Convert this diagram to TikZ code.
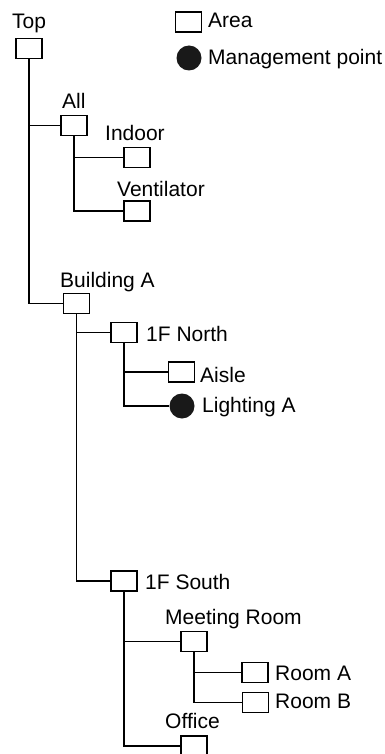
\documentclass[tikz,border=0pt]{standalone}
\usepackage{fontspec}
\setmainfont{Liberation Sans}
\begin{document}
\begin{tikzpicture}[x=1pt,y=-1pt,
  area/.style={draw,line width=1.5pt,rectangle,minimum width=26pt,minimum height=20pt,inner sep=0pt,fill=white},
  mpoint/.style={circle,fill=black!90,minimum size=25pt,inner sep=0pt},
  lbl/.style={anchor=base west,inner sep=0pt,font=\fontsize{21}{24}\selectfont},
  conn/.style={line width=1.5pt}]
\useasboundingbox (0,0) rectangle (385,754);
% connectors
\coordinate (c0) at (0,0);
% legend
\node[area] (legarea) at (188.5,22) {};
\node[lbl] (legareat) at (208,28) {Area};
\node[mpoint] (legmp) at (189,58) {};
\node[lbl] (legmpt) at (208,65) {Management point};
% nodes
\node[area] (top) at (29,48.5) {};
\node[lbl] (topt) at (12,29) {Top};
\node[area] (all) at (74,125.5) {};
\node[lbl] (allt) at (62,109) {All};
\node[area] (indoor) at (137,157.5) {};
\node[lbl] (indoort) at (105,141) {Indoor};
\node[area] (vent) at (137,211) {};
\node[lbl] (ventt) at (117,196) {Ventilator};
\node[area] (bldg) at (76.5,303.5) {};
\node[lbl] (bldgt) at (60,287) {Building A};
\node[area] (north) at (124,332.5) {};
\node[lbl] (northt) at (146,341) {1F North};
\node[area] (aisle) at (181.5,372) {};
\node[lbl] (aislet) at (200,382) {Aisle};
\node[mpoint] (light) at (182,406) {};
\node[lbl] (lightt) at (202,412) {Lighting A};
\node[area] (south) at (124,581) {};
\node[lbl] (southt) at (145,589) {1F South};
\node[area] (meet) at (194,641.5) {};
\node[lbl] (meett) at (165,624) {Meeting Room};
\node[area] (rooma) at (255,672.5) {};
\node[lbl] (roomat) at (275,680) {Room A};
\node[area] (roomb) at (255.5,702.5) {};
\node[lbl] (roombt) at (275,708) {Room B};
\node[area] (office) at (194,746) {};
\node[lbl] (officet) at (165,728) {Office};
% connectors
\draw[conn] (top.south) |- (all.west);
\draw[conn] (top.south) |- (bldg.west);
\draw[conn] (all.south) |- (indoor.west);
\draw[conn] (all.south) |- (vent.west);
\draw[conn] (bldg.south) |- (north.west);
\draw[conn] (bldg.south) |- (south.west);
\draw[conn] (north.south) |- (aisle.west);
\draw[conn] (north.south) |- (light.west);
\draw[conn] (south.south) |- (meet.west);
\draw[conn] (south.south) |- (office.west);
\draw[conn] (meet.south) |- (rooma.west);
\draw[conn] (meet.south) |- (roomb.west);
\end{tikzpicture}
\end{document}
